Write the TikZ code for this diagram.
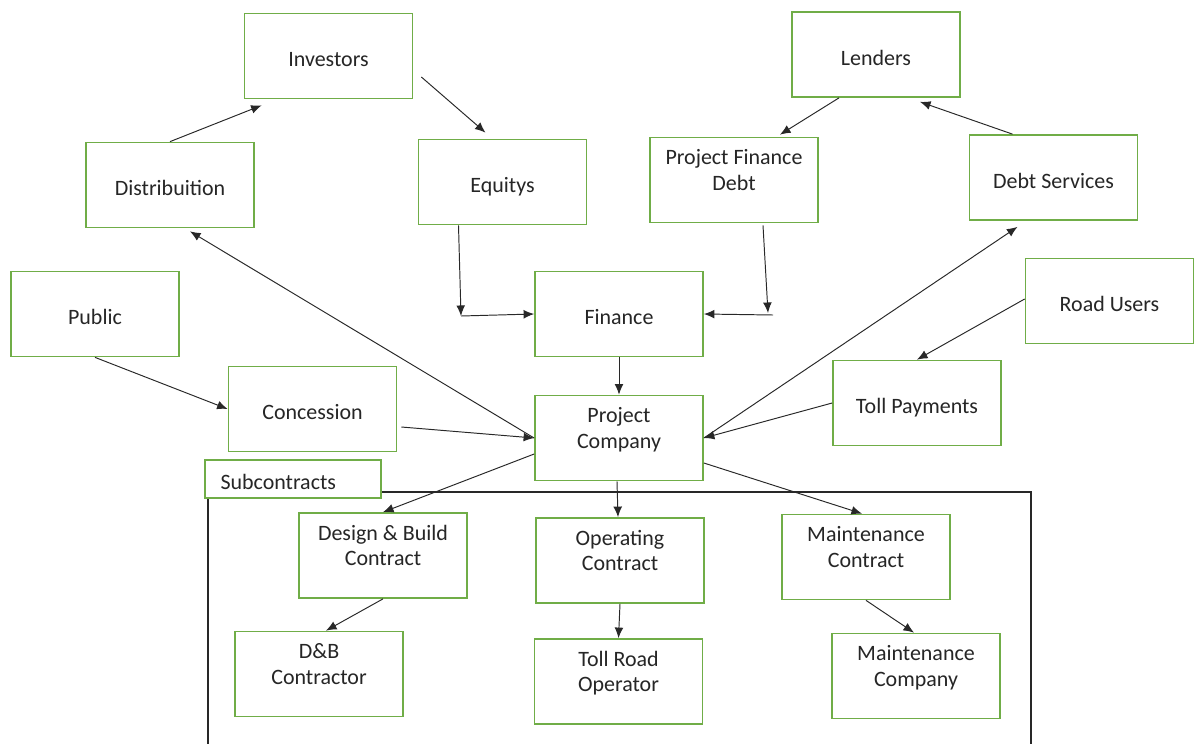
\documentclass[tikz,border=0pt]{standalone}
\usepackage{fontspec}
\setmainfont{Carlito}
\usetikzlibrary{arrows.meta,calc}
\definecolor{boxgreen}{RGB}{112,173,71}
\definecolor{linegray}{RGB}{40,40,40}
\tikzset{
  box/.style={draw=boxgreen,line width=1pt,fill=white,minimum width=3.36cm,minimum height=1.7cm,
    align=center,inner sep=2pt,text=black!85,font=\fontsize{12.5}{14.5}\selectfont},
  oneline/.style={text height=12pt,text depth=0pt},
  flow/.style={draw=linegray,line width=0.55pt,-{Latex[length=6pt,width=5pt]}},
  frame/.style={draw=linegray,line width=0.9pt}
}
\begin{document}
\begin{tikzpicture}[x=0.02cm,y=-0.02cm]
\useasboundingbox (0,0) rectangle (1194,744);
\draw[frame] (208,744) -- (208,492) -- (1031,492) -- (1031,744);
\node[box,oneline] (inv) at (328.5,56) {Investors};
\node[box,oneline] (dist) at (170,185) {Distribuition};
\node[box,oneline] (eq) at (502.5,182) {Equitys};
\node[box,oneline] (len) at (876,54.5) {Lenders};
\node[box] (pfd) at (734,180) {Project Finance\\Debt\\[-3pt]~};
\node[box,oneline] (ds) at (1053.5,177.5) {Debt Services};
\node[box,oneline] (pub) at (95,314) {Public};
\node[box,oneline] (fin) at (619,314) {Finance};
\node[box,oneline] (ru) at (1109.5,301) {Road Users};
\node[box,oneline] (con) at (312.5,409) {Concession};
\node[box] (pc) at (619,438) {Project\\Company\\[-3pt]~};
\node[box,oneline] (toll) at (917,403) {Toll Payments};
\node[box,oneline,minimum width=3.52cm,minimum height=0.76cm,text width=2.9cm,align=left,inner xsep=0.3cm] (sub) at (293,479) {Subcontracts};
\node[box] (dbc) at (383,555.5) {Design \& Build\\Contract\\[-3pt]~};
\node[box] (opc) at (620,560.5) {Operating\\Contract\\[-3pt]~};
\node[box] (mc) at (866,557) {Maintenance\\Contract\\[-3pt]~};
\node[box] (dbcon) at (319,674) {D\&B\\Contractor\\[-3pt]~};
\node[box] (tro) at (618.5,681.5) {Toll Road\\Operator\\[-3pt]~};
\node[box] (mcom) at (916,676) {Maintenance\\Company\\[-3pt]~};
\coordinate (eqturn) at (461,316);
\coordinate (pfdturn) at (768,313);
\draw[flow] (dist.north) -- ($(inv.south west)+(18,6)$);
\draw[flow] ($(inv.east)+(8,21)$) -- ($(eq.north)+(-17,-6)$);
\draw[flow] ($(eq.south)+(-44,0)$) -- (eqturn);
\draw[flow] (eqturn) -- (fin.west);
\draw[flow] ($(len.south)+(-37,0)$) -- ($(pfd.north)+(46,-2)$);
\draw[flow] ($(ds.north)+(-41,0)$) -- ($(len.south)+(44,4)$);
\draw[flow] ($(pfd.south)+(29,2)$) -- (pfdturn);
\draw[flow] ($(pfdturn)+(5,2)$) -- (fin.east);
\draw[flow] (fin.south) -- (pc.north);
\draw[flow] (pc.west) -- ($(dist.south)+(20,3)$);
\draw[flow] (pc.east) -- ($(ds.south)+(-36,6)$);
\draw[flow] ($(ru.west)+(0,-2)$) -- (toll.north);
\draw[flow] (toll.west) -- (pc.east);
\draw[flow] (pub.south) -- (con.west);
\draw[flow] ($(con.east)+(4,18)$) -- (pc.west);
\draw[flow] ($(pc.west)+(0,16)$) -- (dbc.north);
\draw[flow] ($(pc.south)+(-2,0)$) -- ($(opc.north)+(-2,0)$);
\draw[flow] ($(pc.east)+(0,25)$) -- ($(mc.north)+(-4,0)$);
\draw[flow] (dbc.south) -- ($(dbcon.north)+(7,0)$);
\draw[flow] (opc.south) -- (tro.north);
\draw[flow] (mc.south) -- ($(mcom.north)+(-2,0)$);
\end{tikzpicture}
\end{document}
